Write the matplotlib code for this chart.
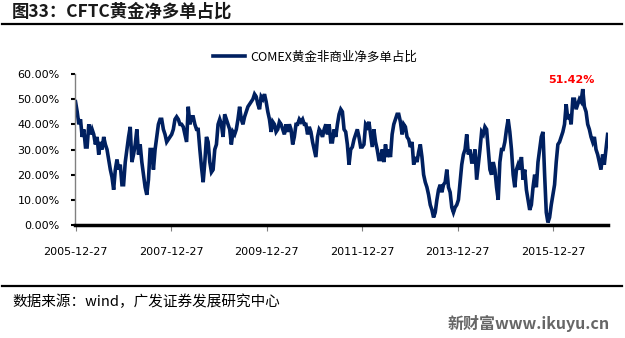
import numpy as np
import pandas as pd
import matplotlib as mpl
import matplotlib.pyplot as plt
from matplotlib.lines import Line2D

mpl.rcParams['font.family'] = ['Noto Sans CJK SC', 'DejaVu Sans']

line_color = '#002060'

# COMEX gold non-commercial net long ratio (%), roughly every 2 weeks
seg_2006_2008 = [49, 45, 40, 42, 35, 38, 31, 31, 40, 36,
                 38, 36, 32, 35, 28, 33, 30, 35, 32, 30,
                 26, 22, 19, 14, 22, 26, 22, 24, 16, 16,
                 25, 30, 35, 39, 25, 28, 32, 38, 28, 32,
                 25, 20, 15, 12, 18, 30, 30, 22, 30, 35,
                 40, 42, 42, 38, 36, 33, 34, 35, 36, 38,
                 42, 43, 42, 40, 40, 39, 36, 33, 47, 40,
                 43, 43, 40, 38, 38, 30, 23, 17, 25, 35,
                 33, 25]
seg_2009_2011 = [21, 22, 30, 32, 40, 42, 40, 35, 44, 42,
                 40, 38, 32, 37, 36, 38, 42, 47, 42, 40,
                 43, 45, 47, 48, 49, 50, 52, 51, 48, 46,
                 51, 50, 52, 49, 45, 42, 37, 41, 40, 37,
                 38, 41, 40, 38, 36, 40, 37, 40, 38, 32,
                 35, 40, 40, 42, 41, 42, 40, 40, 36, 39,
                 37, 33, 30, 27, 35, 38, 37, 35, 38, 40,
                 36, 40, 33, 33, 38, 35, 40, 44]
seg_2012_2014 = [46, 45, 38, 37, 32, 24, 30, 31, 34, 36,
                 38, 35, 31, 31, 32, 40, 39, 41, 36, 31,
                 38, 33, 30, 26, 26, 30, 25, 32, 27, 30,
                 27, 36, 40, 42, 44, 44, 41, 36, 40, 39,
                 35, 34, 31, 33, 24, 27, 25, 29, 32, 27,
                 20, 17, 15, 12, 8, 6, 3, 5, 10, 14,
                 16, 13, 16, 17, 22, 15, 13, 7, 5, 7,
                 8, 10, 17, 24, 28, 30, 36, 28, 30, 25,
                 25, 30]
seg_2015_2017 = [18, 24, 30, 37, 36, 39, 38, 30, 22, 20,
                 25, 22, 15, 10, 25, 30, 30, 33, 38, 42,
                 37, 30, 20, 15, 22, 24, 22, 27, 18, 22,
                 14, 10, 6, 8, 15, 20, 15, 25, 30, 35,
                 37, 20, 5, 1, 3, 8, 12, 16, 25, 32,
                 33, 35, 37, 40, 48, 42, 44, 40, 50, 50,
                 46, 48, 50, 49, 54, 47, 45, 40, 38, 35,
                 33, 35, 30, 28, 25, 22, 28, 24, 30, 36]

values = np.array(seg_2006_2008 + seg_2009_2011 + seg_2012_2014 + seg_2015_2017) / 100.0
dates = pd.date_range('2005-12-27', '2017-02-14', periods=len(values))

tick_dates = pd.to_datetime(['2005-12-27', '2007-12-27', '2009-12-27',
                             '2011-12-27', '2013-12-27', '2015-12-27'])
tick_labels = [d.strftime('%Y-%m-%d') for d in tick_dates]
y_ticks = [0.0, 0.1, 0.2, 0.3, 0.4, 0.5, 0.6]

fig = plt.figure(figsize=(6.25, 3.38), dpi=100)
ax = fig.add_axes([75 / 625, 1 - 225 / 338, 533 / 625, 151 / 338])

ax.plot(dates, values, color=line_color, lw=2.6, label='COMEX黄金非商业净多单占比',
        solid_joinstyle='miter')

ax.set_ylim(0, 0.6)
ax.set_xlim(dates[0] - pd.Timedelta(days=4), dates[-1] + pd.Timedelta(days=3))
ax.set_yticks(y_ticks)
ax.set_yticklabels(['%.2f%%' % (v * 100) for v in y_ticks], family='DejaVu Sans', fontsize=8)
ax.set_xticks(tick_dates)
ax.set_xticklabels(tick_labels, family='DejaVu Sans', fontsize=8)

for s in ['top', 'right']:
    ax.spines[s].set_visible(False)
ax.spines['left'].set_color('#808080')
ax.spines['left'].set_linewidth(1)
ax.spines['bottom'].set_color('black')
ax.spines['bottom'].set_linewidth(2.5)
ax.tick_params(axis='y', direction='out', length=3, width=1.5, color='black', pad=8)
ax.tick_params(axis='x', direction='out', length=4, width=0.8, color='#808080', pad=12)

# peak label
i_peak = int(np.argmax(values))
ax.annotate('51.42%', xy=(dates[i_peak], values[i_peak]), xytext=(-8, 3),
            textcoords='offset points', ha='center', va='bottom',
            color='#ff0000', fontsize=8, fontweight='bold', family='DejaVu Sans')

ax.legend(loc='center', bbox_to_anchor=(0.45, 1.113), frameon=False, fontsize=9,
          handlelength=2.6, handletextpad=0.4, borderaxespad=0)

fig.text(12 / 625, 1 - 12 / 338, '图33：CFTC黄金净多单占比', fontsize=12.5,
         fontweight='bold', va='center', ha='left', color='#1a1a1a')
fig.add_artist(Line2D([2 / 625, 622 / 625], [1 - 23.5 / 338] * 2,
                      transform=fig.transFigure, color='black', lw=1.6))
fig.add_artist(Line2D([2 / 625, 622 / 625], [1 - 285.5 / 338] * 2,
                      transform=fig.transFigure, color='black', lw=1.6))
fig.text(12 / 625, 1 - 302 / 338, '数据来源：wind，广发证券发展研究中心', fontsize=10.5,
         va='center', ha='left', color='black')
fig.text(610 / 625, 1 - 323 / 338, '新财富www.ikuyu.cn', fontsize=11.5,
         fontweight='bold', va='center', ha='right', color='#666666')

fig.savefig('out.png', dpi=100)
